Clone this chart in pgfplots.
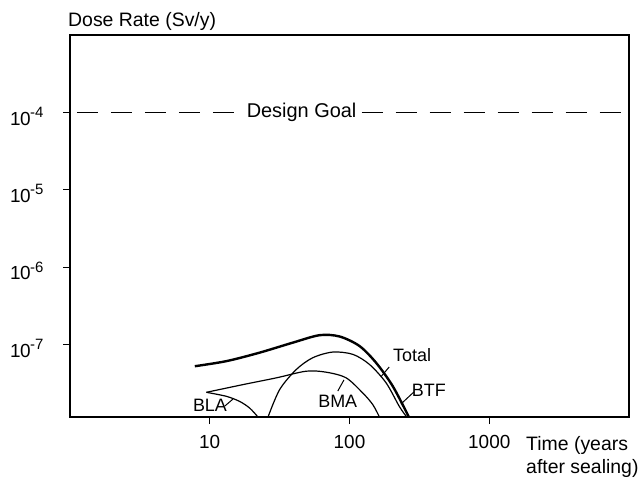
\documentclass[border=0pt]{standalone}
\usepackage{fontspec}
\setmainfont{Liberation Sans}
\usepackage{pgfplots}
\pgfplotsset{compat=1.18}
\newcommand{\tl}[1]{1\kern-0.5pt0\kern-0.5pt\raisebox{0.75ex}{\fontsize{15}{15}\selectfont #1}}
\begin{document}
\begin{tikzpicture}[font=\fontsize{18}{21}\selectfont]
\begin{axis}[
  scale only axis,
  width=559bp, height=382bp,
  xmode=log, ymode=log,
  xmin=1, xmax=10000,
  ymin=1.15e-8, ymax=1e-3,
  axis line style={line width=1.6bp},
  xtick={10,100,1000}, xticklabels={10,100,1000},
  ytick={1e-7,1e-6,1e-5,1e-4},
  yticklabels={\tl{-7},\tl{-6},\tl{-5},\tl{-4}},
  minor tick num=0,
  xminorticks=false, yminorticks=false,
  tick align=outside,
  major tick length=7bp,
  xtick pos=bottom, ytick pos=left,
  tick style={line width=1bp, black},
  tick label style={font=\fontsize{19}{22}\selectfont},
  xticklabel style={yshift=-8bp},
  yticklabel style={xshift=-16bp, yshift=-4bp},
  /pgf/number format/assume math mode=true,
  clip mode=individual,
]
% Design goal
\addplot[black, line width=1.3bp, dash pattern=on 21bp off 13bp] coordinates {(1.12,1e-4) (15.8,1e-4)};
\addplot[black, line width=1.3bp, dash pattern=on 21bp off 13bp] coordinates {(122,1e-4) (10000,1e-4)};
\node[font=\fontsize{20}{24}\selectfont] at (axis cs:45.4,1e-4) {Design Goal};
% Total
\addplot[black, line width=2.4bp, smooth] coordinates {
(7.82,5.22e-8) (13.15,6.07e-8) (22.75,7.82e-8) (39.36,1.054e-7) (61.09,1.315e-7)
(84.92,1.265e-7) (117.8,9.53e-8) (154.9,5.79e-8) (204.2,2.87e-8) (266,1.15e-8)};
% BTF
\addplot[black, line width=1.2bp, smooth] coordinates {
(26.12,1.15e-8) (31.62,2.60e-8) (41.59,4.73e-8) (54.70,6.73e-8) (76.03,7.96e-8)
(105.7,7.43e-8) (139.0,5.50e-8) (182.8,3.18e-8) (227.5,1.57e-8) (257,1.15e-8)};
% BLA
\addplot[black, line width=1.2bp, smooth] coordinates {
(9.46,2.40e-8) (13.15,2.13e-8) (16.37,1.83e-8) (19.32,1.50e-8) (22.13,1.15e-8)};
% BMA
\addplot[black, line width=1.2bp, smooth] coordinates {
(9.46,2.40e-8) (17.30,3.02e-8) (29.92,3.69e-8) (48.98,4.50e-8) (68.08,4.37e-8)
(94.62,3.69e-8) (124.5,2.35e-8) (146.9,1.66e-8) (163.7,1.15e-8)};
% labels
\node at (rel axis cs:0.612,0.162) {Total};
\draw[line width=1bp] (rel axis cs:0.571,0.131) -- (rel axis cs:0.556,0.105);
\node at (rel axis cs:0.642,0.0707) {BTF};
\draw[line width=1bp] (rel axis cs:0.615,0.0654) -- (rel axis cs:0.592,0.034);
\node at (rel axis cs:0.2504,0.0314) {BLA};
\draw[line width=1bp] (rel axis cs:0.277,0.0288) -- (rel axis cs:0.2916,0.0471);
\node at (rel axis cs:0.479,0.0419) {BMA};
\draw[line width=1bp] (rel axis cs:0.479,0.068) -- (rel axis cs:0.490,0.097);
% axis labels
\node[font=\fontsize{19.5}{23}\selectfont, anchor=base west, inner sep=0pt] at (rel axis cs:-0.0036,1.021) {Dose Rate (Sv/y)};
\node[font=\fontsize{19.5}{23}\selectfont, anchor=north west, inner sep=0pt, align=left] at (rel axis cs:0.8157,-0.0497) {Time (years\\after sealing)};
% bounding box
\path (rel axis cs:-0.1252,-0.1545) rectangle (rel axis cs:1.0268,1.0916);
\end{axis}
\end{tikzpicture}
\end{document}
